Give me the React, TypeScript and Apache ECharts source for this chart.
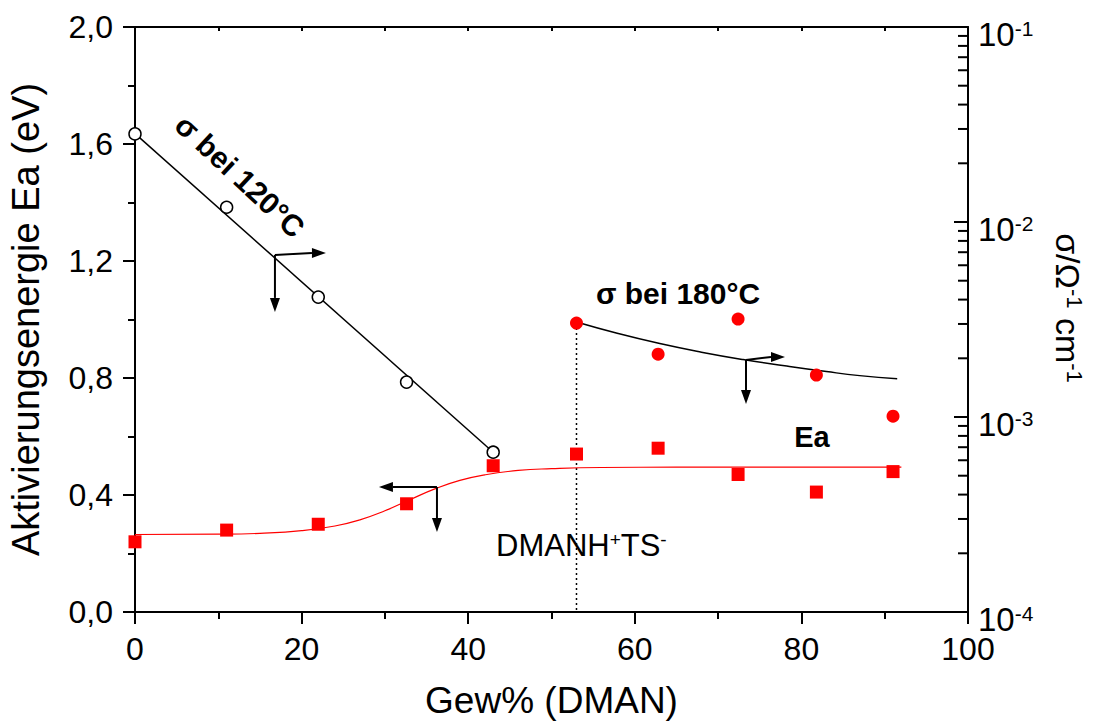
import React, { useEffect, useRef } from 'react';
import * as echarts from 'echarts';

const FONT = '"Liberation Sans", Arial, Helvetica, sans-serif';

// Sample compositions, Gew% DMAN
const gewDMAN = [0, 11, 22, 32.6, 43, 53, 62.8, 72.4, 81.8, 91];
// Activation energy Ea (eV) of every sample
const eaValues = [0.24, 0.28, 0.30, 0.37, 0.50, 0.54, 0.56, 0.47, 0.41, 0.48];

// Conductivity at 120 °C (Ω^-1 cm^-1)
const sigma120X = [0, 11, 22, 32.6, 43];
const sigma120 = [0.0283, 0.0119, 0.00412, 0.00151, 0.00066];
// linear fit on the log scale
const sigma120FitX = [0, 43];
const sigma120Fit = [0.0284, 0.00066];

// Conductivity at 180 °C (Ω^-1 cm^-1)
const sigma180X = [53, 62.8, 72.4, 81.8, 91];
const sigma180 = [0.00303, 0.0021, 0.00318, 0.00164, 0.00101];
const sigma180FitX = [53, 58, 63, 68, 73, 78, 83, 87, 91.5];
const sigma180Fit = [0.00307, 0.00268, 0.00238, 0.00215, 0.00197, 0.00183, 0.00171, 0.00163, 0.00157];

// Sigmoidal fit of Ea
const eaFitX = [0, 10, 15, 20, 24, 27, 30, 33, 36, 39, 42, 46, 50, 56, 65, 80, 92];
const eaFit = [0.265, 0.266, 0.269, 0.278, 0.294, 0.315, 0.346, 0.384, 0.421, 0.45, 0.469, 0.484, 0.49, 0.494, 0.495, 0.495, 0.495];

// Composition of the salt DMANH+TS-
const saltX = 53;
const logMin = 1e-4;

// Axis-assignment arrows: anchor points on the curves
const sigmaArrowAnchors = [[16.8, 0.00678], [73.35, 0.00196]];
const eaArrowAnchors = [[36.25, 0.427]];
// arrow geometry (pixels): horizontal direction, lengths, slight rise of the horizontal arm
const sigmaArrowShape = [
  { dir: 1, h: 51, v: 57, rise: -2 },
  { dir: 1, h: 39, v: 44, rise: -3 },
];
const eaArrowShape = [{ dir: -1, h: 58, v: 45, rise: 0 }];

// Minor ticks of the logarithmic axis (2..9 per decade)
const logMinorTicks: number[][] = [];
for (let e = -4; e < -1; e++) {
  for (let m = 2; m <= 9; m++) logMinorTicks.push([100, m * Math.pow(10, e)]);
}

const zip = (xs: number[], ys: number[]) => xs.map((x, i) => [x, ys[i]]);

function arrowRenderer(shapes: { dir: number; h: number; v: number; rise: number }[]) {
  return (params: any, api: any) => {
    const p = api.coord([api.value(0), api.value(1)]);
    const s = shapes[params.dataIndex];
    const cx = p[0];
    const cy = p[1];
    const head = 14;
    const hw = 5;
    const hx = cx + s.dir * s.h;
    const hy = cy + s.rise;
    const vy = cy + s.v;
    const style = { stroke: '#000', lineWidth: 2, fill: null };
    return {
      type: 'group',
      children: [
        { type: 'line', shape: { x1: cx, y1: cy, x2: hx - s.dir * head, y2: hy }, style },
        {
          type: 'polygon',
          shape: { points: [[hx, hy], [hx - s.dir * head, hy - hw], [hx - s.dir * head, hy + hw]] },
          style: { fill: '#000' },
        },
        { type: 'line', shape: { x1: cx, y1: cy, x2: cx, y2: vy - head }, style },
        {
          type: 'polygon',
          shape: { points: [[cx, vy], [cx - hw, vy - head], [cx + hw, vy - head]] },
          style: { fill: '#000' },
        },
      ],
    };
  };
}

const axisLine = { show: true, onZero: false, lineStyle: { color: '#000', width: 2 } };

export default function App() {
  const ref = useRef<HTMLDivElement>(null);

  useEffect(() => {
    if (!ref.current) return;
    const chart = echarts.init(ref.current, undefined, { renderer: 'svg' });

    chart.setOption({
      animation: false,
      backgroundColor: '#fff',
      grid: { left: 135, right: 134, top: 27, bottom: 110, containLabel: false, outerBoundsMode: 'none' },
      xAxis: [
        {
          type: 'value',
          position: 'bottom',
          min: 0,
          max: 100,
          interval: 20,
          axisLine,
          axisTick: { show: true, inside: false, length: 12, lineStyle: { color: '#000', width: 2 } },
          minorTick: { show: true, splitNumber: 2, length: 7, lineStyle: { color: '#000', width: 2 } },
          splitLine: { show: false },
          axisLabel: { fontSize: 32, fontFamily: FONT, color: '#000', margin: 21 },
          name: 'Gew% (DMAN)',
          nameLocation: 'middle',
          nameGap: 70,
          nameTextStyle: { fontSize: 37, fontFamily: FONT, color: '#000' },
        },
        {
          type: 'value',
          position: 'top',
          min: 0,
          max: 100,
          interval: 10,
          axisLine,
          axisTick: { show: true, inside: true, length: 4, lineStyle: { color: '#000', width: 2 } },
          axisLabel: { show: false },
          splitLine: { show: false },
        },
      ],
      yAxis: [
        {
          type: 'value',
          position: 'left',
          min: 0,
          max: 2,
          interval: 0.4,
          axisLine,
          axisTick: { show: true, inside: false, length: 12, lineStyle: { color: '#000', width: 2 } },
          minorTick: { show: true, splitNumber: 2, length: 7, lineStyle: { color: '#000', width: 2 } },
          splitLine: { show: false },
          axisLabel: {
            fontSize: 32,
            fontFamily: FONT,
            color: '#000',
            margin: 22,
            formatter: (v: number) => v.toFixed(1).replace('.', ','),
          },
          name: 'Aktivierungsenergie Ea (eV)',
          nameLocation: 'middle',
          nameRotate: 90,
          nameGap: 90,
          nameTextStyle: { fontSize: 38, fontFamily: FONT, color: '#000' },
        },
        {
          type: 'log',
          logBase: 10,
          position: 'right',
          min: 1e-4,
          max: 1e-1,
          splitNumber: 3,
          axisLine,
          axisTick: { show: true, inside: true, length: 14, lineStyle: { color: '#000', width: 2 } },
          splitLine: { show: false },
          axisLabel: {
            margin: 10,
            padding: [14, 0, 0, 0],
            formatter: (v: number) => `{b|10}{s|${Math.round(Math.log10(v))}}`,
            rich: {
              b: { fontSize: 33, lineHeight: 33, fontFamily: FONT, color: '#000' },
              s: { fontSize: 21, lineHeight: 2, verticalAlign: 'top', fontFamily: FONT, color: '#000' },
            },
          },
        },
      ],
      graphic: [
        {
          type: 'text',
          x: 240,
          y: 176,
          rotation: -0.75,
          style: {
            text: 'σ bei 120°C',
            fontSize: 30,
            fontWeight: 'bold',
            fontFamily: FONT,
            fill: '#000',
            align: 'center',
            verticalAlign: 'middle',
          },
        },
        {
          type: 'text',
          x: 678,
          y: 293,
          style: {
            text: 'σ bei 180°C',
            fontSize: 30,
            fontWeight: 'bold',
            fontFamily: FONT,
            fill: '#000',
            align: 'center',
            verticalAlign: 'middle',
          },
        },
        {
          type: 'text',
          x: 812,
          y: 437,
          style: {
            text: 'Ea',
            fontSize: 29,
            fontWeight: 'bold',
            fontFamily: FONT,
            fill: '#000',
            align: 'center',
            verticalAlign: 'middle',
          },
        },
        {
          type: 'text',
          x: 496,
          y: 545,
          style: {
            text: '{n|DMANH}{s|+}{n|TS}{s|-}',
            align: 'left',
            verticalAlign: 'middle',
            rich: {
              n: { fontSize: 31, lineHeight: 31, fontFamily: FONT, fill: '#000' },
              s: { fontSize: 19, lineHeight: 2, verticalAlign: 'top', fontFamily: FONT, fill: '#000' },
            },
          },
        },
        {
          type: 'text',
          x: 1068,
          y: 308,
          rotation: -Math.PI / 2,
          style: {
            text: '{n|σ/Ω}{s|-1}{n| cm}{s|-1}',
            align: 'center',
            verticalAlign: 'middle',
            rich: {
              n: { fontSize: 34, lineHeight: 34, fontFamily: FONT, fill: '#000' },
              s: { fontSize: 22, lineHeight: 2, verticalAlign: 'top', fontFamily: FONT, fill: '#000' },
            },
          },
        },
      ],
      series: [
        {
          name: 'σ 120 fit',
          type: 'line',
          xAxisIndex: 0,
          yAxisIndex: 1,
          data: zip(sigma120FitX, sigma120Fit),
          symbol: 'none',
          lineStyle: { color: '#000', width: 1.5 },
          z: 2,
        },
        {
          name: 'σ 180 fit',
          type: 'line',
          xAxisIndex: 0,
          yAxisIndex: 1,
          data: zip(sigma180FitX, sigma180Fit),
          smooth: true,
          symbol: 'none',
          lineStyle: { color: '#000', width: 1.5 },
          z: 2,
        },
        {
          name: 'Ea fit',
          type: 'line',
          xAxisIndex: 0,
          yAxisIndex: 0,
          data: zip(eaFitX, eaFit),
          smooth: true,
          symbol: 'none',
          lineStyle: { color: '#ff0000', width: 1.2 },
          z: 2,
        },
        {
          name: 'DMANH+TS-',
          type: 'line',
          xAxisIndex: 0,
          yAxisIndex: 1,
          data: [[saltX, sigma180[0]], [saltX, logMin]],
          symbol: 'none',
          lineStyle: { color: '#000', width: 1.5, type: [2, 3] },
          z: 1,
        },
        {
          name: 'σ bei 120°C',
          type: 'scatter',
          xAxisIndex: 0,
          yAxisIndex: 1,
          data: zip(sigma120X, sigma120),
          symbol: 'circle',
          symbolSize: 12,
          itemStyle: { color: '#fff', borderColor: '#000', borderWidth: 1.5, opacity: 1 },
          z: 4,
        },
        {
          name: 'σ bei 180°C',
          type: 'scatter',
          xAxisIndex: 0,
          yAxisIndex: 1,
          data: zip(sigma180X, sigma180),
          symbol: 'circle',
          symbolSize: 13,
          itemStyle: { color: '#ff0000', opacity: 1 },
          z: 4,
        },
        {
          name: 'Ea',
          type: 'scatter',
          xAxisIndex: 0,
          yAxisIndex: 0,
          data: zip(gewDMAN, eaValues),
          symbol: 'rect',
          symbolSize: 13,
          itemStyle: { color: '#ff0000', opacity: 1 },
          z: 4,
        },
        {
          name: 'σ arrows',
          type: 'custom',
          xAxisIndex: 0,
          yAxisIndex: 1,
          data: sigmaArrowAnchors,
          renderItem: arrowRenderer(sigmaArrowShape),
          z: 5,
        },
        {
          name: 'Ea arrows',
          type: 'custom',
          xAxisIndex: 0,
          yAxisIndex: 0,
          data: eaArrowAnchors,
          renderItem: arrowRenderer(eaArrowShape),
          z: 5,
        },
        {
          name: 'log minor ticks',
          type: 'custom',
          xAxisIndex: 0,
          yAxisIndex: 1,
          data: logMinorTicks,
          silent: true,
          renderItem: (params: any, api: any) => {
            const p = api.coord([api.value(0), api.value(1)]);
            return {
              type: 'line',
              shape: { x1: p[0] - 10, y1: p[1], x2: p[0], y2: p[1] },
              style: { stroke: '#000', lineWidth: 2 },
            };
          },
          z: 5,
        },
      ],
    });

    return () => chart.dispose();
  }, []);

  return (
    <div
      ref={ref}
      style={{ position: 'absolute', left: 0, top: 0, width: 1102, height: 722, background: '#fff' }}
    />
  );
}
